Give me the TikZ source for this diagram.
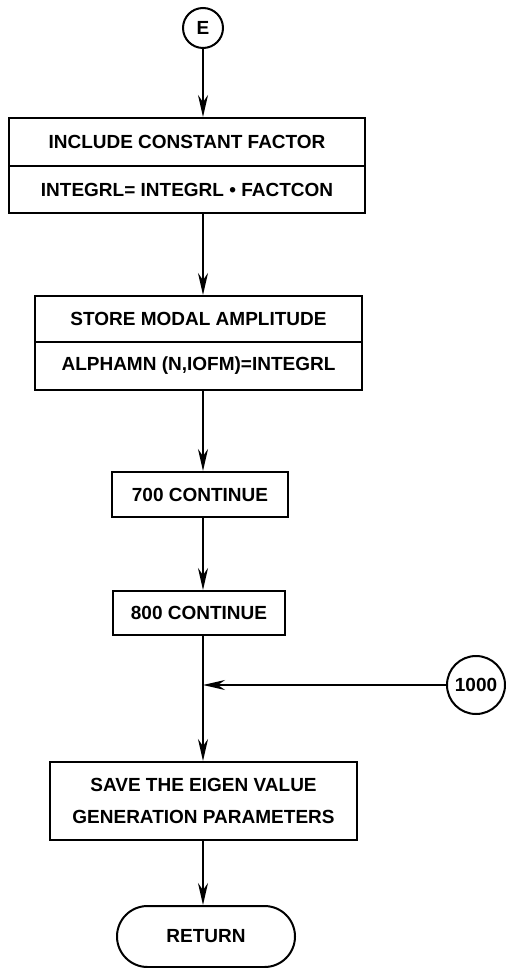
\documentclass[tikz,border=0pt]{standalone}
\usepackage{fontspec}
\setmainfont{Liberation Sans}
\usetikzlibrary{arrows.meta,shapes.misc}

\begin{document}
\begin{tikzpicture}[x=0.5pt, y=-0.5pt,
		box/.style={draw, rectangle, line width=1pt, inner sep=0pt, font=\fontsize{9.5}{11.5}\selectfont\bfseries},
		conn/.style={draw, circle, line width=1pt, inner sep=0pt, font=\fontsize{9.5}{11.5}\selectfont\bfseries},
		flow/.style={line width=1pt, -{Stealth[length=11pt, width=5pt]}}]
	\useasboundingbox (0,0) rectangle (506,968);

	\node[conn, minimum size=20pt] (e) at (203,28) {E};

	\begin{scope}
		\node[box, minimum width=178pt, minimum height=24pt] (incl) at (187,142) {INCLUDE CONSTANT FACTOR};
		\node[box, minimum width=178pt, minimum height=23.5pt] (factcon) at (187,189.5) {INTEGRL= INTEGRL \textbullet\ FACTCON};
	\end{scope}

	\begin{scope}
		\node[box, minimum width=163.5pt, minimum height=23pt] (store) at (198.5,319) {STORE MODAL AMPLITUDE};
		\node[box, minimum width=163.5pt, minimum height=24pt] (alpha) at (198.5,366) {ALPHAMN (N,IOFM)=INTEGRL};
	\end{scope}

	\node[box, minimum width=88pt, minimum height=22.5pt] (c700) at (200,494.5) {700 CONTINUE};
	\node[box, minimum width=86pt, minimum height=22pt] (c800) at (199,613) {800 CONTINUE};

	\coordinate (jn) at (203,685);
	\node[conn, minimum size=29pt] (n1000) at (476,685) {1000};

	\node[box, minimum width=153.5pt, minimum height=39pt, align=center] (save) at (203.5,801) {SAVE THE EIGEN VALUE\\[4.5pt]GENERATION PARAMETERS};
	\node[box, rounded rectangle, minimum width=89pt, minimum height=30.5pt] (ret) at (206,936.5) {RETURN};

	\draw[flow] (e) -- (e |- incl.north);
	\draw[flow] (e |- factcon.south) -- (e |- store.north);
	\draw[flow] (e |- alpha.south) -- (e |- c700.north);
	\draw[flow] (e |- c700.south) -- (e |- c800.north);
	\draw[line width=1pt] (jn |- c800.south) -- (jn);
	\draw[flow] (n1000) -- (jn);
	\draw[flow] (jn) -- (jn |- save.north);
	\draw[flow] (jn |- save.south) -- (jn |- ret.north);

\end{tikzpicture}
\end{document}
